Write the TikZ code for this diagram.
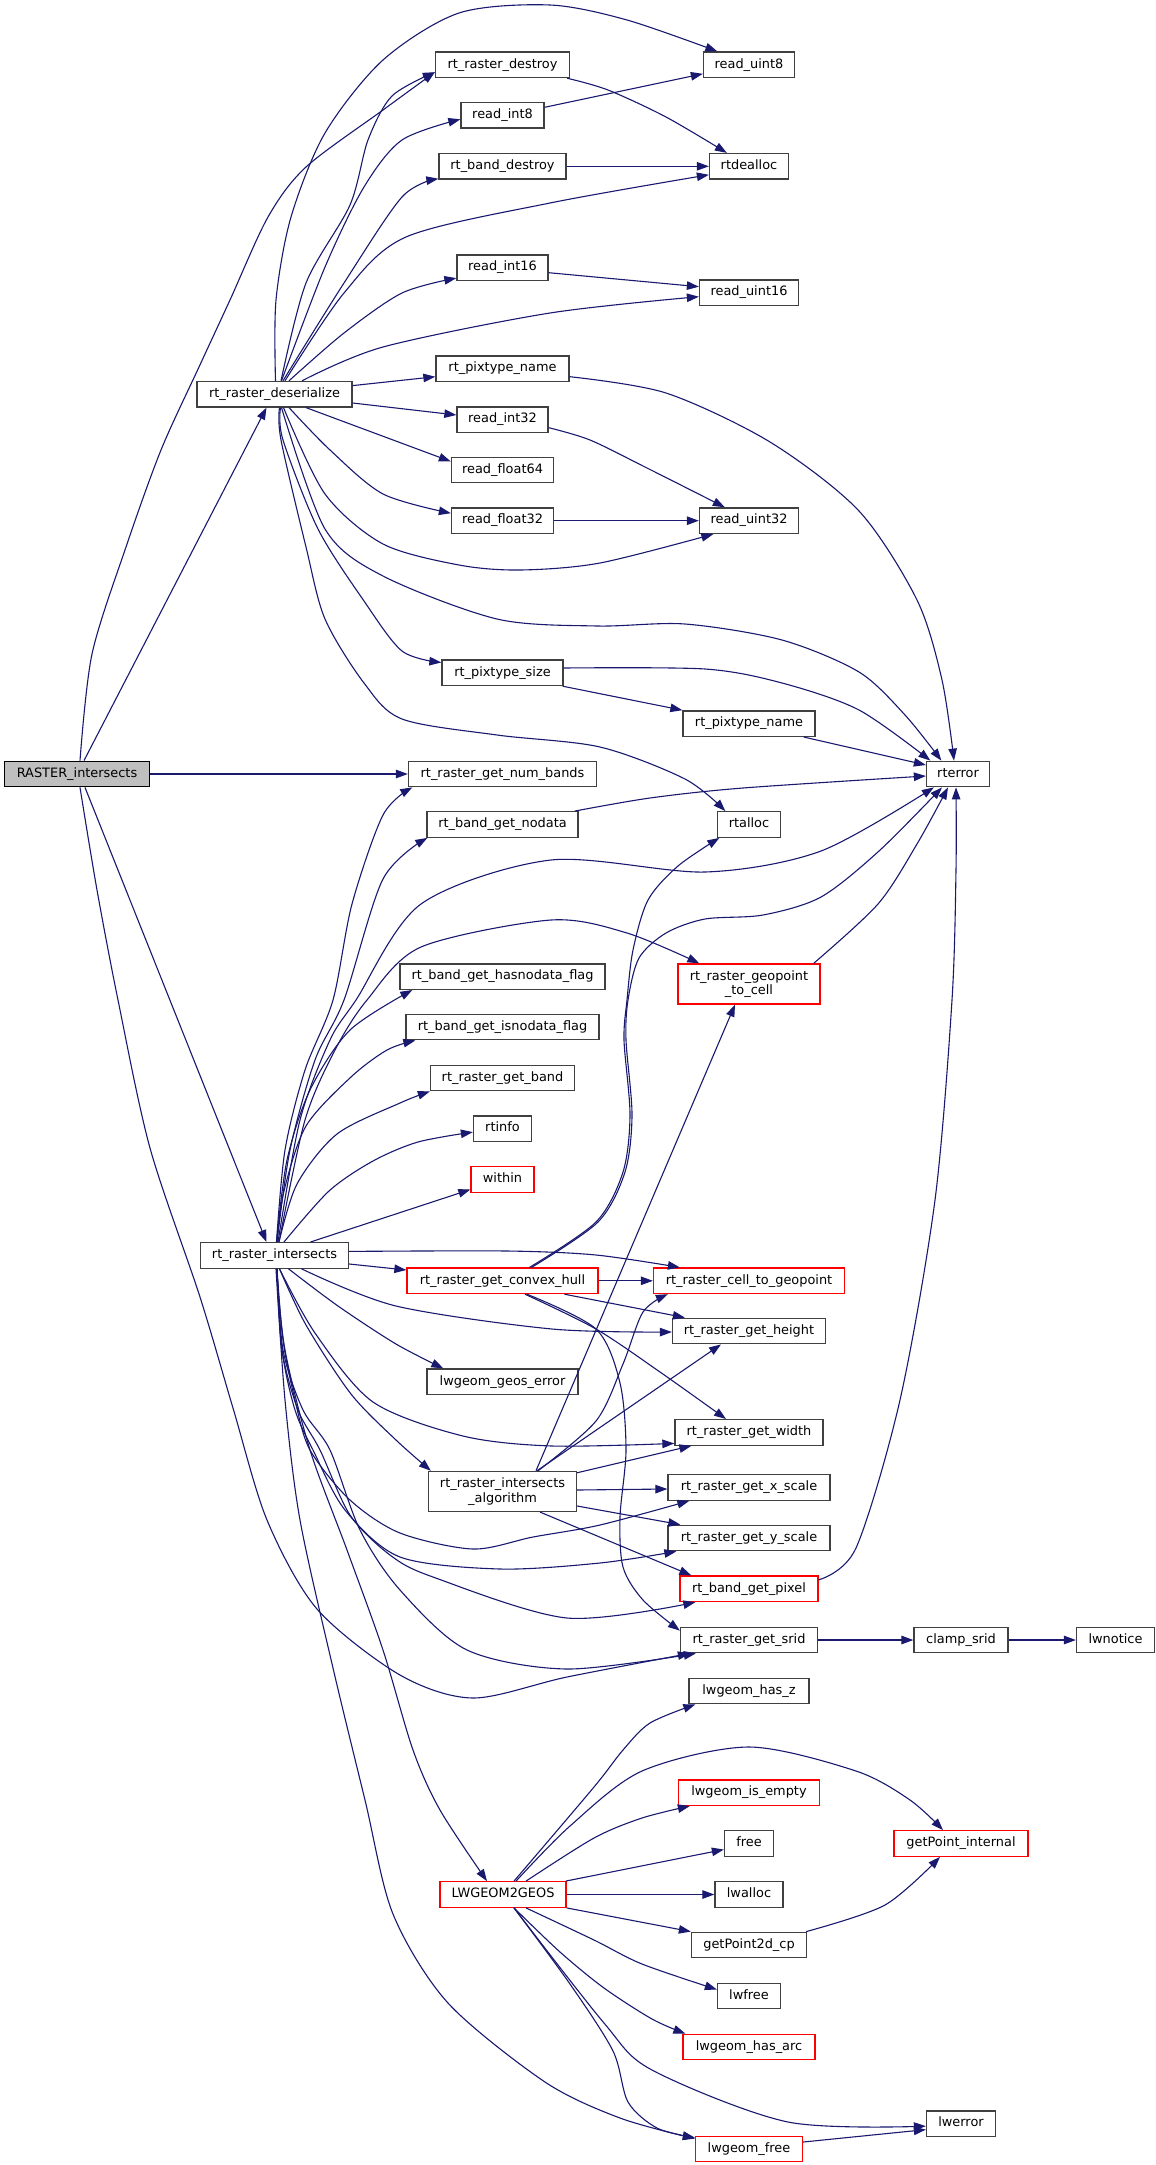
\documentclass[tikz,border=0pt]{standalone}
\usepackage{fontspec}
\setmainfont{DejaVu Sans}
\usetikzlibrary{arrows.meta}
\definecolor{edgeblue}{HTML}{191970}
\definecolor{boxgray}{HTML}{404040}
\definecolor{rootfill}{HTML}{BFBFBF}
\definecolor{boxred}{HTML}{FF0000}
\tikzset{
  fnbase/.style={draw=boxgray, line width=1.3pt, fill=white, inner sep=0pt,
    font=\fontsize{12.9pt}{14.5pt}\selectfont, align=center, text=black},
  fn/.style={fnbase, minimum height=25.5pt, text height=9.5pt, text depth=3pt},
  fntwo/.style={fnbase, minimum height=40pt},
  redb/.style={draw=boxred},
  rootb/.style={draw=black, fill=rootfill},
  call/.style={draw=edgeblue, line width=1.1pt, -{Triangle[length=12pt,width=8.5pt]}},
}
\begin{document}
\begin{tikzpicture}[x=1pt,y=-1pt]
\fill[white] (0,0) rectangle (1156,2165);
\useasboundingbox (0,0) rectangle (1156,2165);
% column 1-2
\node[fn, rootb, minimum width=145pt] (R) at (77,774) {RASTER\_intersects};
\node[fn, minimum width=155pt] (D) at (274.5,394.2) {rt\_raster\_deserialize};
\node[fn, minimum width=148pt] (I) at (274.5,1255.4) {rt\_raster\_intersects};
% column 3
\node[fn, minimum width=134pt] (destroy) at (502.5,64.8) {rt\_raster\_destroy};
\node[fn, minimum width=83pt] (int8) at (502.5,115.3) {read\_int8};
\node[fn, minimum width=127pt] (bdestroy) at (502.5,166.3) {rt\_band\_destroy};
\node[fn, minimum width=91pt] (int16) at (502.5,267.7) {read\_int16};
\node[fn, minimum width=133pt] (ptnameA) at (502.5,368.7) {rt\_pixtype\_name};
\node[fn, minimum width=91pt] (int32) at (502.5,419.7) {read\_int32};
\node[fn, minimum width=102pt] (f64) at (502.5,470) {read\_float64};
\node[fn, minimum width=102pt] (f32) at (502.5,520.7) {read\_float32};
\node[fn, minimum width=121pt] (ptsize) at (502.5,672.8) {rt\_pixtype\_size};
\node[fn, minimum width=188pt] (numbands) at (502.5,774) {rt\_raster\_get\_num\_bands};
\node[fn, minimum width=151pt] (nodata) at (502.5,824.5) {rt\_band\_get\_nodata};
\node[fn, minimum width=205pt] (hasnod) at (502.5,976.6) {rt\_band\_get\_hasnodata\_flag};
\node[fn, minimum width=193pt] (isnod) at (502.5,1027) {rt\_band\_get\_isnodata\_flag};
\node[fn, minimum width=144pt] (getband) at (502.5,1078) {rt\_raster\_get\_band};
\node[fn, minimum width=58pt] (rtinfo) at (502.5,1128.6) {rtinfo};
\node[fn, redb, minimum width=63pt] (within) at (502.5,1179.5) {within};
\node[fn, redb, minimum width=191pt] (hull) at (502.5,1280.8) {rt\_raster\_get\_convex\_hull};
\node[fn, minimum width=151pt] (geoserr) at (502.5,1381.8) {lwgeom\_geos\_error};
\node[fntwo, minimum width=148pt] (algo) at (502.5,1491.4) {rt\_raster\_intersects\\\_algorithm};
\node[fn, redb, minimum width=126pt] (L) at (503,1894.5) {LWGEOM2GEOS};
% column 4
\node[fn, minimum width=91pt] (uint8) at (749,64.8) {read\_uint8};
\node[fn, minimum width=79pt] (dealloc) at (749,166.3) {rtdealloc};
\node[fn, minimum width=99pt] (uint16) at (749,292.7) {read\_uint16};
\node[fn, minimum width=99pt] (uint32) at (749,520.7) {read\_uint32};
\node[fn, minimum width=132pt] (ptnameB) at (749,723.6) {rt\_pixtype\_name};
\node[fn, minimum width=63pt] (rtalloc) at (749,824.5) {rtalloc};
\node[fntwo, redb, minimum width=142pt] (geopt) at (749,984) {rt\_raster\_geopoint\\\_to\_cell};
\node[fn, redb, minimum width=191pt] (cellgeo) at (749,1280.8) {rt\_raster\_cell\_to\_geopoint};
\node[fn, minimum width=153pt] (height) at (749,1331) {rt\_raster\_get\_height};
\node[fn, minimum width=148pt] (width) at (749,1432.4) {rt\_raster\_get\_width};
\node[fn, minimum width=162pt] (xscale) at (749,1487.4) {rt\_raster\_get\_x\_scale};
\node[fn, minimum width=162pt] (yscale) at (749,1538) {rt\_raster\_get\_y\_scale};
\node[fn, redb, minimum width=138pt] (pixel) at (749,1588.8) {rt\_band\_get\_pixel};
\node[fn, minimum width=137pt] (srid) at (749,1640) {rt\_raster\_get\_srid};
\node[fn, minimum width=120pt] (hasz) at (749,1691) {lwgeom\_has\_z};
\node[fn, redb, minimum width=141pt] (isempty) at (749,1792.6) {lwgeom\_is\_empty};
\node[fn, minimum width=49pt] (free) at (749,1843.5) {free};
\node[fn, minimum width=68pt] (lwalloc) at (749,1894.5) {lwalloc};
\node[fn, minimum width=115pt] (gp2d) at (749,1945) {getPoint2d\_cp};
\node[fn, minimum width=63pt] (lwfree) at (749,1996) {lwfree};
\node[fn, redb, minimum width=132pt] (hasarc) at (749,2047) {lwgeom\_has\_arc};
\node[fn, redb, minimum width=107pt] (lwgfree) at (749,2149) {lwgeom\_free};
% column 5-6
\node[fn, minimum width=63pt] (rterror) at (958,774) {rterror};
\node[fn, minimum width=94pt] (clamp) at (961,1640) {clamp\_srid};
\node[fn, redb, minimum width=134pt] (gpint) at (961,1843.5) {getPoint\_internal};
\node[fn, minimum width=69pt] (lwerror) at (961,2123.6) {lwerror};
\node[fn, minimum width=78pt] (lwnotice) at (1115.5,1640) {lwnotice};

% ---- RASTER_intersects
\draw[call] ([xshift=7pt]R.north) -- ([xshift=-8pt]D.south);
\draw[call] plot[smooth] coordinates {([xshift=3pt]R.north) (92,654) (126,547) (161,450) (199,367) (230,300) (268,217) (306,167) (383,110) ([yshift=6pt]destroy.south west)};
\draw[call] (R.east) -- (numbands.west);
\draw[call] ([xshift=8pt]R.south) -- ([xshift=-8pt]I.north);
\draw[call] plot[smooth] coordinates {([xshift=3pt]R.south) (97,890) (118,1000) (150,1148) (200,1297) (233,1408) (267,1520) (317,1609) (400,1675) (473,1698) (567,1677) ([xshift=10pt]srid.south west)};

% ---- rt_raster_deserialize
\draw[call] plot[smooth] coordinates {([xshift=6.5pt]D.north) (306,283) (350,205) (368,140) (392,96) ([yshift=6pt]destroy.south west)};
\draw[call] plot[smooth] coordinates {([xshift=7pt]D.north) (325,267) (364,187) (402,140) ([yshift=-4pt]int8.west)};
\draw[call] plot[smooth] coordinates {([xshift=8.5pt]D.north) (344,283) (402,197) ([yshift=1pt]bdestroy.south west)};
\draw[call] plot[smooth] coordinates {([xshift=10.5pt]D.north) (344,293) (406,237) (550,203) ([yshift=-8.5pt]dealloc.west)};
\draw[call] plot[smooth] coordinates {([xshift=14.5pt]D.north) (344,333) (402,293) ([yshift=3pt]int16.south west)};
\draw[call] plot[smooth] coordinates {([xshift=27.5pt]D.north) (383,347) (550,313) ([yshift=-4pt]uint16.west)};
\draw[call] plot[smooth] coordinates {([xshift=1pt]D.north) (276,300) (291,217) (325,133) (383,60) (459,13) (550,5) (627,20) ([xshift=14.5pt]uint8.north west)};
\draw[call] ([yshift=8.6pt]D.east) -- ([yshift=-8pt]ptnameA.west);
\draw[call] ([yshift=-8.8pt]D.east) -- ([yshift=4.7pt]int32.west);
\draw[call] ([xshift=31.5pt]D.south) -- ([yshift=8.5pt]f64.west);
\draw[call] plot[smooth] coordinates {([xshift=14.5pt]D.south) (330,450) (383,494) ([yshift=7.5pt]f32.west)};
\draw[call] plot[smooth] coordinates {([xshift=9pt]D.south) (325,494) (383,544) (459,565) (520,570) (600,563) ([xshift=14.5pt]uint32.south west)};
\draw[call] plot[smooth] coordinates {([xshift=7pt]D.south) (325,529) (383,576) (497,619) (597,626) (685,624) (782,640) (859,672) (905,715) ([xshift=15.5pt]rterror.north west)};
\draw[call] plot[smooth] coordinates {([xshift=6pt]D.south) (283,440) (318,529) (364,601) (402,651) ([yshift=-3pt]ptsize.north west)};
\draw[call] plot[smooth] coordinates {([xshift=5pt]D.south) (281,440) (306,547) (325,619) (364,683) (402,719) (497,735) (600,747) (685,779) ([xshift=8.5pt]rtalloc.north west)};

% ---- upper small edges
\draw[call] ([yshift=8pt]int8.east) -- ([yshift=-9pt]uint8.west);
\draw[call] plot[smooth] coordinates {([xshift=-3pt]destroy.south east) (608,90) (666,117) ([xshift=18pt]dealloc.north west)};
\draw[call] (bdestroy.east) -- (dealloc.west);
\draw[call] ([yshift=-5pt]int16.east) -- ([yshift=6pt]uint16.west);
\draw[call] plot[smooth] coordinates {([yshift=-8pt]int32.east) (590,440) (647,468) ([xshift=26pt]uint32.north west)};
\draw[call] (f32.east) -- (uint32.west);
\draw[call] plot[smooth] coordinates {([yshift=-8pt]ptnameA.east) (666,393) (770,442) (859,511) (917,600) (942,680) ([xshift=-4pt]rterror.north)};
\draw[call] plot[smooth] coordinates {([yshift=4.8pt]ptsize.east) (705,669) (782,683) (859,710) ([xshift=4.5pt]rterror.north west)};
\draw[call] ([xshift=-1pt]ptsize.south east) -- (ptnameB.north west);
\draw[call] ([xshift=-12pt]ptnameB.south east) -- ([yshift=9pt]rterror.west);
\draw[call] plot[smooth] coordinates {([xshift=-4pt]nodata.north east) (650,798) (743,788) ([yshift=-2pt]rterror.west)};
\draw[call] plot[smooth] coordinates {([xshift=-7pt]geopt.north east) (878,904) (917,844) ([xshift=-10pt]rterror.south)};
\draw[call] plot[smooth] coordinates {([yshift=9pt]pixel.east) (856,1548) (900,1400) (935,1200) (952,1000) (956,870) ([xshift=-2pt]rterror.south)};

% ---- rt_raster_intersects, upward
\draw[call] plot[smooth] coordinates {([xshift=2pt]I.north) (285,1150) (305,1070) (333,1000) (352,904) (383,815) ([xshift=4.5pt]numbands.south west)};
\draw[call] plot[smooth] coordinates {([xshift=2.5pt]I.north) (290,1150) (315,1060) (344,1000) (383,879) ([xshift=1pt]nodata.south west)};
\draw[call] plot[smooth] coordinates {([xshift=3.5pt]I.north) (300,1120) (330,1040) (356,1000) (421,904) (551,860) (705,872) (821,851) ([xshift=8pt]rterror.south west)};
\draw[call] plot[smooth] coordinates {([xshift=4.5pt]I.north) (305,1120) (335,1050) (367,1000) (421,947) (551,920) (627,933) ([xshift=22pt]geopt.north west)};
\draw[call] plot[smooth] coordinates {([xshift=2pt]I.north) (287,1160) (310,1090) (350,1030) ([xshift=13pt]hasnod.south west)};
\draw[call] plot[smooth] coordinates {([xshift=2.5pt]I.north) (284,1191) (306,1126) (351,1077) (387,1050) ([xshift=10pt]isnod.south west)};
\draw[call] plot[smooth] coordinates {([xshift=4.5pt]I.north) (297,1184) (337,1134) (400,1103) (getband.south west)};
\draw[call] plot[smooth] coordinates {([xshift=9.5pt]I.north) (329,1191) (373,1161) (418,1142) ([yshift=-3.5pt]rtinfo.west)};
\draw[call] ([xshift=36pt]I.north) -- ([yshift=-10pt]within.west);
% ---- rt_raster_intersects, right
\draw[call] plot[smooth] coordinates {([yshift=4pt]I.east) (507,1251) (596,1255) ([xshift=27pt]cellgeo.north west)};
\draw[call] ([yshift=-8.6pt]I.east) -- ([yshift=10.8pt]hull.west);
% ---- rt_raster_intersects, downward
\draw[call] plot[smooth] coordinates {([xshift=27pt]I.south) (396,1306) (552,1329) ([yshift=-1pt]height.west)};
\draw[call] plot[smooth] coordinates {([xshift=14pt]I.south) (338,1306) (396,1344) ([xshift=17pt]geoserr.north west)};
\draw[call] plot[smooth] coordinates {([xshift=5pt]I.south) (315,1333) (373,1402) (463,1436) (552,1446) ([yshift=-11pt]width.west)};
\draw[call] plot[smooth] coordinates {([xshift=5pt]I.south) (306,1325) (351,1394) (396,1440) ([xshift=3pt]algo.north west)};
\draw[call] plot[smooth] coordinates {([xshift=2.5pt]I.south) (283,1340) (295,1400) (310,1450) (350,1500) (400,1533) (473,1549) (533,1537) (600,1525) ([xshift=22pt]xscale.south west)};
\draw[call] plot[smooth] coordinates {([xshift=2.5pt]I.south) (282,1350) (295,1410) (313,1450) (345,1510) (400,1557) (500,1569) (600,1563) ([xshift=9pt]yscale.south west)};
\draw[call] plot[smooth] coordinates {([xshift=2.5pt]I.south) (282,1350) (298,1410) (320,1450) (350,1515) (390,1555) (433,1577) (567,1618) ([xshift=16pt]pixel.south west)};
\draw[call] plot[smooth] coordinates {([xshift=2.5pt]I.south) (283,1350) (303,1410) (330,1450) (360,1530) (400,1590) (467,1650) (567,1669) ([xshift=16pt]srid.south west)};
\draw[call] plot[smooth] coordinates {([xshift=2pt]I.south) (285,1350) (310,1450) (347,1550) (383,1650) (413,1750) (440,1810) ([xshift=-16pt]L.north)};
\draw[call] plot[smooth] coordinates {([xshift=1.5pt]I.south) (285,1400) (300,1520) (333,1668) (365,1800) (393,1914) (448,2003) (545,2082) (620,2118) ([yshift=-3pt]lwgfree.north west)};

% ---- rt_raster_get_convex_hull
\draw[call] plot[smooth] coordinates {([xshift=27pt]hull.north) (596,1222) (623,1172) (630,1115) (624,1040) (627,1000) (633,950) (648,900) (678,866) ([xshift=2.5pt]rtalloc.south west)};
\draw[call] plot[smooth] coordinates {([xshift=29pt]hull.north) (598,1222) (625,1172) (632,1115) (626,1040) (628,1000) (639,958) (666,933) (705,919) (763,915) (821,897) (879,851) ([xshift=-16pt]rterror.south)};
\draw[call] (hull.east) -- (cellgeo.west);
\draw[call] ([xshift=62pt]hull.south) -- ([xshift=13pt]height.north west);
\draw[call] plot[smooth] coordinates {([xshift=22.5pt]hull.south) (596,1329) (660,1372) ([xshift=-23pt]width.north)};
\draw[call] plot[smooth] coordinates {([xshift=24.5pt]hull.south) (596,1329) (620,1383) (626,1450) (620,1517) (623,1567) (643,1600) ([yshift=-4pt]srid.north west)};

% ---- rt_raster_intersects_algorithm
\draw[call] ([xshift=33.5pt]algo.north) -- ([xshift=-14pt]geopt.south);
\draw[call] plot[smooth] coordinates {([xshift=35.5pt]algo.north) (596,1421) (623,1364) (643,1312) ([xshift=15pt]cellgeo.south west)};
\draw[call] ([xshift=34.5pt]algo.north) -- ([xshift=-28pt]height.south);
\draw[call] ([yshift=-2pt]algo.north east) -- ([xshift=17pt]width.south west);
\draw[call] ([yshift=1.4pt]algo.east) -- ([yshift=-1.6pt]xscale.west);
\draw[call] ([yshift=-14.6pt]algo.east) -- ([xshift=13pt]yscale.north west);
\draw[call] ([xshift=37.5pt]algo.south) -- ([xshift=12pt]pixel.north west);

% ---- srid chain
\draw[call] (srid.east) -- (clamp.west);
\draw[call] (clamp.east) -- (lwnotice.west);

% ---- LWGEOM2GEOS
\draw[call] plot[smooth] coordinates {([xshift=11pt]L.north) (594,1787) (623,1750) (650,1723) ([xshift=7pt]hasz.south west)};
\draw[call] plot[smooth] coordinates {([xshift=13pt]L.north) (570,1826) (642,1771) (749,1747) (856,1771) (910,1800) ([xshift=-18pt]gpint.north)};
\draw[call] plot[smooth] coordinates {([xshift=23pt]L.north) (594,1838) (642,1818) ([xshift=12pt]isempty.south west)};
\draw[call] ([xshift=-1pt]L.north east) -- ([yshift=-6pt]free.west);
\draw[call] (L.east) -- (lwalloc.west);
\draw[call] (L.south east) -- (gp2d.north west);
\draw[call] plot[smooth] coordinates {([xshift=23pt]L.south) (594,1940) (642,1964) ([yshift=6.5pt]lwfree.west)};
\draw[call] plot[smooth] coordinates {([xshift=11pt]L.south) (560,1952) (604,1988) (652,2019) ([xshift=3pt]hasarc.north west)};
\draw[call] plot[smooth] coordinates {([xshift=11pt]L.south) (604,2023) (652,2070) (788,2122) ([yshift=-2.5pt]lwerror.west)};
\draw[call] plot[smooth] coordinates {([xshift=11pt]L.south) (570,1984) (613,2051) (628,2102) (657,2128) ([yshift=-2pt]lwgfree.north west)};
\draw[call] plot[smooth] coordinates {([xshift=-1pt]gp2d.north east) (885,1905) ([xshift=-21pt]gpint.south)};
\draw[call] ([yshift=7pt]lwgfree.east) -- ([yshift=-6pt]lwerror.west);
\end{tikzpicture}
\end{document}
